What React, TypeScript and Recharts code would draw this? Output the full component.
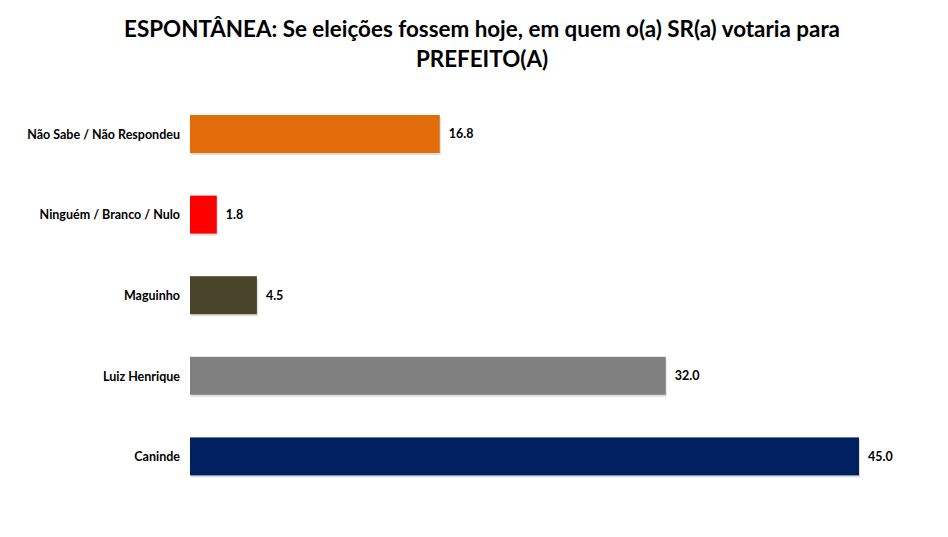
import React from "react";
import { BarChart, Bar, XAxis, YAxis, Cell, LabelList } from "recharts";

// respostas (de cima para baixo)
const categorias = [
  "Não Sabe / Não Respondeu",
  "Ninguém / Branco / Nulo",
  "Maguinho",
  "Luiz Henrique",
  "Caninde",
];
const percentuais = [16.8, 1.8, 4.5, 32.0, 45.0];
const cores = ["#E36C0A", "#FF0000", "#4A442A", "#808080", "#002060"];

const titulo1 = "ESPONTÂNEA: Se eleições fossem hoje, em quem o(a) SR(a) votaria para";
const titulo2 = "PREFEITO(A)";

const dados = categorias.map((nome, i) => ({ nome, valor: percentuais[i] }));

const FONTE = "Lato, 'Open Sans', sans-serif";

// barra com sombra leve embaixo
const BarraSombra = (props: any) => {
  const { x, y, width, height, fill } = props;
  if (width <= 0) return null;
  return (
    <g>
      <rect x={x + 1} y={y + 2} width={width} height={height} fill="#c8c8c8" opacity={0.6} />
      <rect x={x} y={y} width={width} height={height} fill={fill} />
    </g>
  );
};

const App: React.FC = () => {
  return (
    <div
      style={{
        position: "absolute",
        left: 0,
        top: 0,
        width: 948,
        height: 537,
        background: "#fff",
        fontFamily: FONTE,
      }}
    >
      <div
        style={{
          position: "absolute",
          top: 14,
          left: 8,
          width: 948,
          textAlign: "center",
          fontWeight: 700,
          fontSize: 22.4,
          lineHeight: "30px",
          color: "#000",
        }}
      >
        {titulo1}
        <br />
        {titulo2}
      </div>
      <BarChart
        width={948}
        height={537}
        data={dados}
        layout="vertical"
        margin={{ top: 94, right: 89, bottom: 40, left: 0 }}
        barSize={38}
      >
        <XAxis type="number" domain={[0, 45]} hide />
        <YAxis
          type="category"
          dataKey="nome"
          width={190}
          axisLine={false}
          tickLine={false}
          tickSize={6}
          tickMargin={4}
          tick={{ fill: "#000", fontSize: 12.5, fontWeight: 700, fontFamily: FONTE }}
        />
        <Bar dataKey="valor" isAnimationActive={false} shape={<BarraSombra />}>
          {dados.map((d, i) => (
            <Cell key={d.nome} fill={cores[i]} />
          ))}
          <LabelList
            dataKey="valor"
            position="right"
            offset={9}
            formatter={(v: any) => Number(v).toFixed(1)}
            style={{ fill: "#000", fontSize: 12.5, fontWeight: 700, fontFamily: FONTE }}
          />
        </Bar>
      </BarChart>
    </div>
  );
};

export default App;
